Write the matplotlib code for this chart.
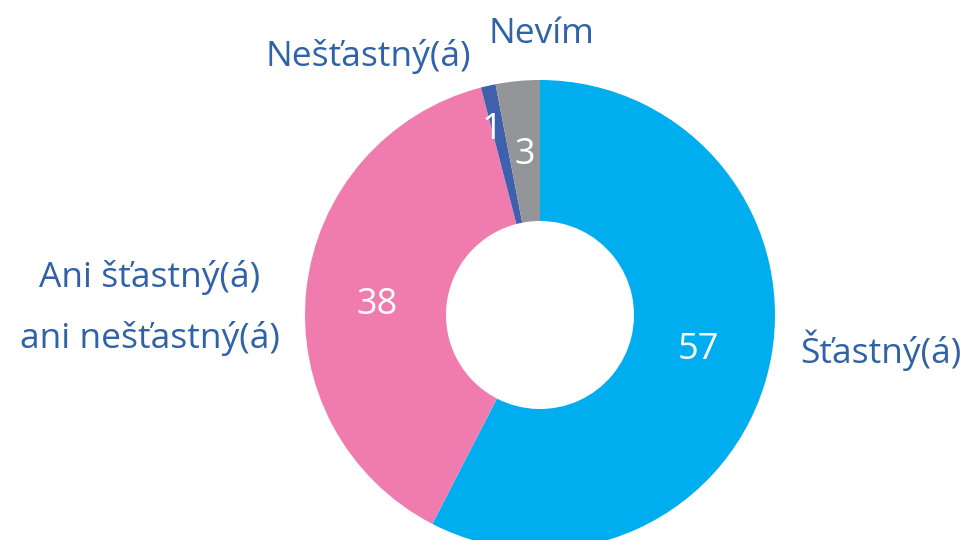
import matplotlib.pyplot as plt

labels = ["Šťastný(á)", "Ani šťastný(á)\nani nešťastný(á)", "Nešťastný(á)", "Nevím"]
values = [57, 38, 1, 3]
colors = ["#00AEEF", "#F07CAF", "#3F60AC", "#939598"]

label_color = "#2F62A8"
plt.rcParams['font.family'] = ['Open Sans', 'DejaVu Sans']

fig = plt.figure(figsize=(9.66, 5.4), dpi=100)
ax = fig.add_axes([0, 0, 1, 1])

# donut in pixel coordinates (centre sits low, bottom is cut off)
ax.pie(values, colors=colors, startangle=90, counterclock=False,
       center=(540, 225), radius=235,
       wedgeprops=dict(width=235 * 0.6, linewidth=0))
ax.set_xlim(0, 966)
ax.set_ylim(0, 540)
ax.set_aspect('equal')
ax.axis('off')

# value labels
val_pos = [(698, 190), (377, 235), (492, 410), (525, 385)]
for v, (x, y) in zip(values, val_pos):
    ax.text(x, y, str(v), color="white", fontsize=26, ha="center", va="center")

# category labels
ax.text(800, 190, labels[0], color=label_color, fontsize=25.5, ha="left", va="center")
ax.text(150, 232, labels[1], color=label_color, fontsize=25.5, ha="center", va="center",
        linespacing=1.95)
ax.text(368, 484, labels[2], color=label_color, fontsize=25.5, ha="center", va="center")
ax.text(541, 506, labels[3], color=label_color, fontsize=25.5, ha="center", va="center")

fig.savefig("out.png", dpi=100)
